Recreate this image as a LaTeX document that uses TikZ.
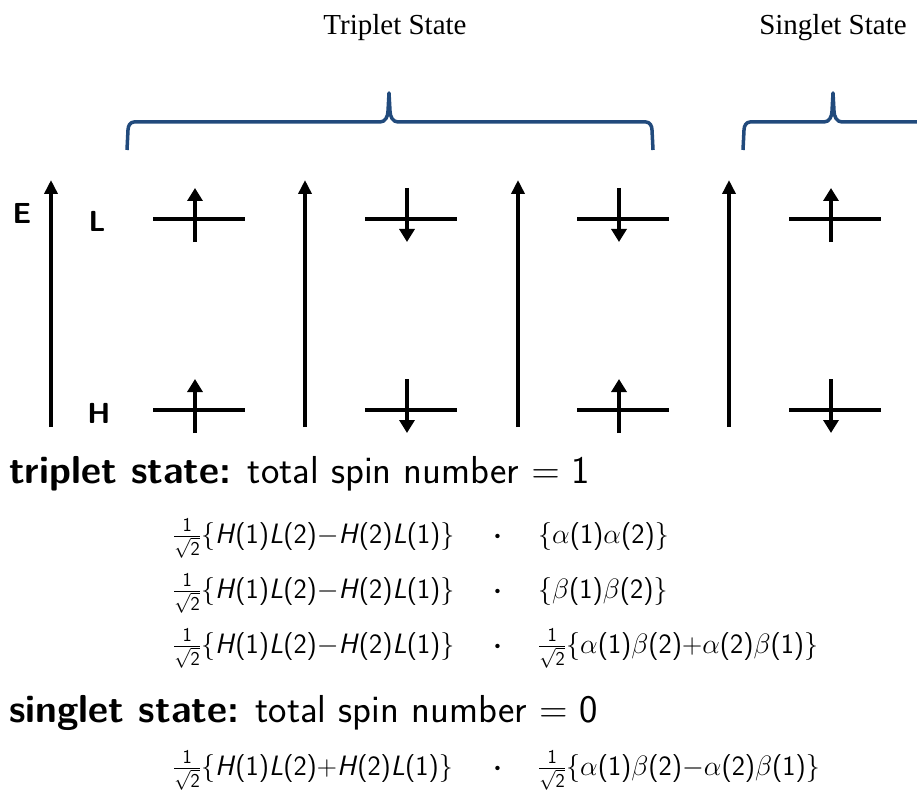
\RequirePackage{fix-cm}
\documentclass[tikz,border=0pt]{standalone}
\usepackage{amsmath}
\usepackage{fontspec}
\usepackage{tikz}
\usetikzlibrary{arrows.meta}

\newfontfamily\timesfont{Liberation Serif}
\definecolor{bracecol}{RGB}{33,74,124}

% one over root two, small
\newcommand{\isq}{$\frac{\textsf{1}}{\sqrt{\textsf{2}}}$}

\tikzset{
  level/.style={line width=4.5pt},
  axis/.style={line width=3.5pt,-{Triangle[width=13pt,length=14pt]}},
  spin/.style={line width=4.5pt,-{Triangle[width=15pt,length=13pt]}},
  brace/.style={draw=bracecol,line width=3.5pt,line join=round},
  title/.style={font=\fontsize{29}{32}\selectfont\timesfont},
  lbl/.style={font=\fontsize{29}{30}\selectfont\sffamily\bfseries},
  head/.style={anchor=base west,inner sep=0pt,font=\fontsize{39}{42}\selectfont\sffamily},
  eq/.style={anchor=base west,inner sep=0pt,font=\fontsize{28}{30}\selectfont\sffamily},
}

\begin{document}
\begin{tikzpicture}[x=1pt,y=-1pt]
  \useasboundingbox (0,0) rectangle (917,794);

  % Titles over the braces
  \node[title] (trip) at (395,28) {Triplet State};
  \node[title] (sing) at (833,28) {Singlet State};

  % Braces
  \draw[brace] (127,150) -- (128,130) to[out=90,in=180] (134,122) -- (380,122)
    to[out=0,in=-90] (388,111) -- (389,93) -- (390,111) to[out=-90,in=180] (398,122)
    -- (646,122) to[out=0,in=90] (652,130) -- (653,150);
  \draw[brace] (743,150) -- (744,130) to[out=90,in=180] (750,122) -- (824,122)
    to[out=0,in=-90] (832,111) -- (833,93) -- (834,111) to[out=-90,in=180] (842,122)
    -- (930,122);

  % Energy axis and orbital labels
  \node[lbl] (E) at (22,213) {E};
  \node[lbl] (L) at (97,221) {L};
  \node[lbl] (H) at (99,413) {H};

  % Vertical arrows between the configurations
  \foreach \ax in {51,305,518,729}
    \draw[axis] (\ax,427) -- (\ax,180);

  % Levels with spins (1 = up, -1 = down)
  \foreach \x/\ls/\hs in {199/1/1, 411/-1/-1, 623/-1/1, 835/1/-1} {
    \draw[level] (\x-46,219) -- (\x+46,219);
    \draw[level] (\x-46,410) -- (\x+46,410);
    \draw[spin] (\x-4,219+27*\ls-4) -- (\x-4,219-27*\ls-4);
    \draw[spin] (\x-4,410+27*\hs-4) -- (\x-4,410-27*\hs-4);
  }

  % Wave functions
  \node[head] (thead) at (9,483) {\textbf{triplet state:} total spin number $=$ 1};
  \node[eq] (t1a) at (173,543) {\isq\{\textit{H}(1)\textit{L}(2)$-$\textit{H}(2)\textit{L}(1)\}};
  \node[eq] (t1b) at (538,543) {\{$\alpha$(1)$\alpha$(2)\}};
  \node[eq] (t2a) at (173,598) {\isq\{\textit{H}(1)\textit{L}(2)$-$\textit{H}(2)\textit{L}(1)\}};
  \node[eq] (t2b) at (538,598) {\{$\beta$(1)$\beta$(2)\}};
  \node[eq] (t3a) at (173,653) {\isq\{\textit{H}(1)\textit{L}(2)$-$\textit{H}(2)\textit{L}(1)\}};
  \node[eq] (t3b) at (538,653) {\isq\{$\alpha$(1)$\beta$(2)$+$$\alpha$(2)$\beta$(1)\}};
  \foreach \y in {543,598,653}
    \node[eq] at (493,\y) {$\boldsymbol{\cdot}$};

  \node[head] (shead) at (9,722) {\textbf{singlet state:} total spin number $=$ 0};
  \node[eq] (s1a) at (173,775) {\isq\{\textit{H}(1)\textit{L}(2)$+$\textit{H}(2)\textit{L}(1)\}};
  \node[eq] (s1b) at (538,775) {\isq\{$\alpha$(1)$\beta$(2)$-$$\alpha$(2)$\beta$(1)\}};
  \node[eq] at (493,775) {$\boldsymbol{\cdot}$};
\end{tikzpicture}
\end{document}
